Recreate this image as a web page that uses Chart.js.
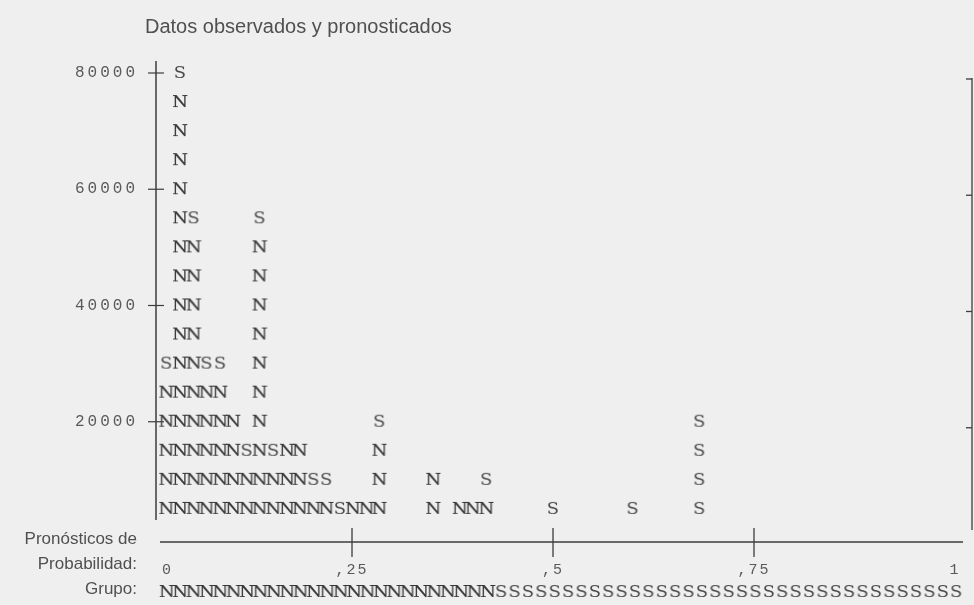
<!DOCTYPE html>
<html>
<head>
<meta charset="utf-8">
<script src="https://cdn.jsdelivr.net/npm/chart.js@4"></script>
<style>
  html, body { margin: 0; padding: 0; background: #efefef; }
  #chart { display: block; }
</style>
</head>
<body>
<canvas id="chart" width="974" height="605"></canvas>
<script>
const titleText = 'Datos observados y pronosticados';
const symbolCases = 5000; // cases per printed symbol

// printed columns: predicted probability at each column and its symbols, bottom to top
const colProb = [0.019, 0.036, 0.053, 0.069, 0.086, 0.102, 0.119, 0.135, 0.152, 0.169, 0.185, 0.202,
                 0.218, 0.235, 0.251, 0.268, 0.284, 0.351, 0.384, 0.400, 0.417, 0.500, 0.599, 0.682];
const colStack = ['NNNNNS', 'NNNNNNNNNNNNNNNS', 'NNNNNNNNNNS', 'NNNNNS', 'NNNNNS', 'NNNN', 'NNS',
                  'NNNNNNNNNNS', 'NNS', 'NNN', 'NNN', 'NS', 'NS', 'S', 'N', 'N', 'NNNS', 'NN',
                  'N', 'N', 'NS', 'S', 'S', 'SSSS'];

const yTickValues = [20000, 40000, 60000, 80000];
const xTickValues = [0, 0.25, 0.5, 0.75, 1];
const xTickLabels = ['0', ',25', ',5', ',75', '1'];
const grupoRow = 'NNNNNNNNNNNNNNNNNNNNNNNNNSSSSSSSSSSSSSSSSSSSSSSSSSSSSSSSSSSS';

function letterImage(ch, color, weight) {
    const c = document.createElement('canvas');
    c.width = 16;
    c.height = 18;
    const g = c.getContext('2d');
    g.translate(8, 9.5);
    g.scale(1.12, 1);
    g.font = '16px "DejaVu Serif", serif';
    g.fillStyle = color;
    g.strokeStyle = color;
    g.lineWidth = weight;
    g.textAlign = 'center';
    g.textBaseline = 'middle';
    g.fillText(ch, 0, 0);
    if (weight > 0) g.strokeText(ch, 0, 0);
    return c;
}
const imgN = letterImage('N', '#363636', 0.2);
const imgS = letterImage('S', '#4c4c4c', 0);

const nPoints = [];
const sPoints = [];
colStack.forEach((stack, i) => {
    [...stack].forEach((g, k) => {
        (g === 'N' ? nPoints : sPoints).push({ x: colProb[i], y: symbolCases * (k + 1) });
    });
});

function line(ctx, x1, y1, x2, y2) {
    ctx.beginPath();
    ctx.moveTo(x1, y1);
    ctx.lineTo(x2, y2);
    ctx.stroke();
}

const decor = {
    id: 'decor',
    afterDraw(chart) {
        const { ctx, chartArea: a, scales: { x, y } } = chart;
        ctx.save();
        ctx.strokeStyle = '#3c3c3c';
        ctx.fillStyle = '#505050';
        ctx.textBaseline = 'middle';

        ctx.font = '20px "Liberation Sans", Arial, sans-serif';
        ctx.textAlign = 'left';
        ctx.fillText(titleText, 145, 27);

        // left axis with crossing ticks
        const ax = a.left + 5;
        ctx.lineWidth = 1.5;
        line(ctx, ax, a.top - 12, ax, a.bottom - 18);
        ctx.font = '16px "Liberation Mono", monospace';
        ctx.letterSpacing = '3px';
        ctx.textAlign = 'right';
        ctx.fillStyle = '#5a5a5a';
        yTickValues.forEach(v => {
            const py = y.getPixelForValue(v);
            ctx.lineWidth = 1.2;
            line(ctx, ax - 8, py, ax + 8, py);
            ctx.fillText(String(v), a.left - 13, py);
        });

        // right frame line
        const rx = a.right + 17;
        ctx.lineWidth = 1.3;
        line(ctx, rx, a.top + 5, rx, a.bottom - 8);
        yTickValues.forEach(v => {
            const py = y.getPixelForValue(v) + 6;
            line(ctx, rx - 6, py, rx, py);
        });

        // probability axis
        const by = a.bottom + 4;
        ctx.lineWidth = 1.5;
        line(ctx, a.left + 9, by, a.right + 8, by);
        ctx.font = '15px "Liberation Mono", monospace';
        ctx.letterSpacing = '2px';
        xTickValues.forEach((v, i) => {
            const px = x.getPixelForValue(v);
            if (v > 0 && v < 1) {
                ctx.lineWidth = 1.3;
                line(ctx, px, by - 14, px, by + 15);
            }
            ctx.textAlign = v === 0 ? 'left' : 'center';
            ctx.fillText(xTickLabels[i], v === 0 ? px + 11 : px, by + 28);
        });
        ctx.letterSpacing = '0px';

        ctx.fillStyle = '#505050';
        ctx.font = '17px "Liberation Sans", Arial, sans-serif';
        ctx.textAlign = 'right';
        ctx.fillText('Pronósticos de', 137, 539);
        ctx.fillText('Probabilidad:', 137, 564);
        ctx.fillText('Grupo:', 137, 589);

        const pitch = (a.right + 8 - (a.left + 9)) / grupoRow.length;
        [...grupoRow].forEach((g, i) => {
            const img = g === 'N' ? imgN : imgS;
            ctx.drawImage(img, a.left + 9 + pitch * (i + 0.5) - 8, 592 - 9);
        });
        ctx.restore();
    }
};

new Chart(document.getElementById('chart'), {
    type: 'scatter',
    data: {
        datasets: [
            { label: 'N', data: nPoints, pointStyle: imgN, clip: false },
            { label: 'S', data: sPoints, pointStyle: imgS, clip: false }
        ]
    },
    options: {
        responsive: false,
        devicePixelRatio: 1,
        animation: false,
        layout: { padding: { left: 151, right: 19, top: 73, bottom: 67 } },
        scales: {
            x: { type: 'linear', min: 0, max: 1, display: false },
            y: { type: 'linear', min: 0, max: 80000, display: false }
        },
        plugins: {
            legend: { display: false },
            tooltip: { enabled: false }
        }
    },
    plugins: [decor]
});
</script>
</body>
</html>
